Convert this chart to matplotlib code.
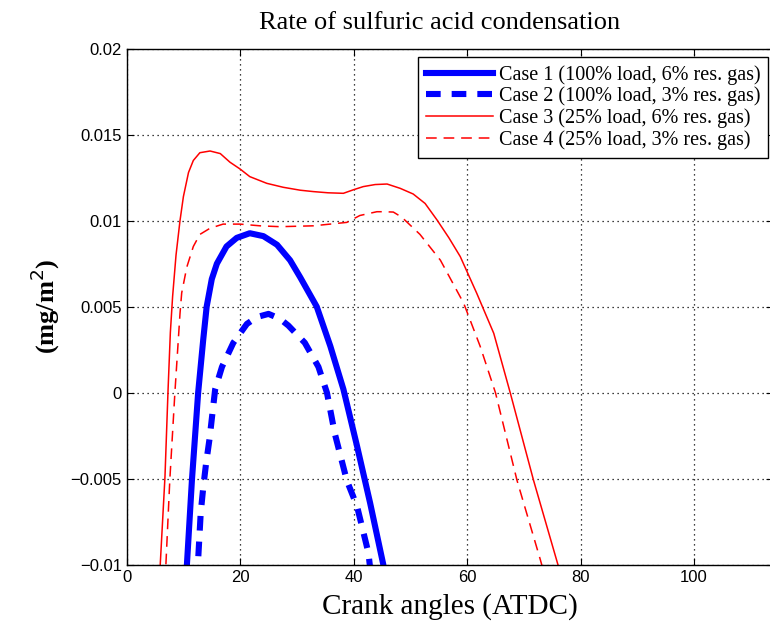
import numpy as np
import matplotlib.pyplot as plt

# crank angle (ATDC) and condensation rate (mg/m^2)
x1 = [10.4, 10.6, 11.5, 12.6, 13.5, 14.1, 15.0, 15.9, 17.6, 19.4, 21.7, 24.1, 26.5, 28.8, 30.6, 33.5, 35.9, 38.2, 40.6, 42.9, 45.3, 45.6]
y1 = [-0.011, -0.0101, -0.0051, 0.0, 0.0031, 0.005, 0.0066, 0.0075, 0.0085, 0.0090, 0.00927, 0.0091, 0.0086, 0.0077, 0.0067, 0.005, 0.0027, 0.0002, -0.0031, -0.0064, -0.0101, -0.011]

x2 = [12.5, 12.6, 13.05, 13.5, 14.0, 14.6, 15.6, 16.8, 18.8, 21.2, 23.0, 25.0, 27.0, 28.5, 31.4, 33.8, 35.3, 36.7, 38.8, 40.6, 42.6, 43.2]
y2 = [-0.011, -0.0097, -0.0070, -0.0055, -0.0041, -0.0027, 0.0002, 0.0015, 0.0029, 0.0040, 0.0044, 0.00458, 0.0043, 0.0039, 0.0029, 0.0015, 0.0, -0.0024, -0.0051, -0.0066, -0.0093, -0.011]

x3 = [5.8, 5.9, 6.75, 7.3, 7.7, 8.1, 8.7, 9.4, 10.0, 10.9, 11.75, 12.9, 14.7, 16.5, 18.2, 20.0, 21.7, 24.7, 27.6, 30.6, 32.9, 35.5, 38.2, 40.0, 41.7, 43.8, 45.9, 48.2, 50.5, 52.6, 54.7, 56.8, 58.8, 61.7, 64.7, 67.6, 71.7, 76.1, 76.9]
y3 = [-0.011, -0.0101, -0.0049, 0.0002, 0.0035, 0.0056, 0.0080, 0.0100, 0.0114, 0.0128, 0.0135, 0.01395, 0.01405, 0.0139, 0.0134, 0.0130, 0.01256, 0.01217, 0.01194, 0.01177, 0.01169, 0.01162, 0.01159, 0.0118, 0.01198, 0.0121, 0.01213, 0.01188, 0.01155, 0.0110, 0.01004, 0.0090, 0.00791, 0.00578, 0.00345, 0.0, -0.00508, -0.0101, -0.011]

x4 = [6.75, 6.9, 7.6, 8.5, 9.4, 9.7, 10.6, 11.75, 12.9, 14.7, 17.0, 20.0, 23.5, 27.0, 32.9, 38.8, 41.1, 44.1, 45.3, 47.0, 48.5, 51.7, 55.3, 59.4, 62.3, 65.0, 68.8, 72.9, 74.0]
y4 = [-0.011, -0.0101, -0.0051, 0.0, 0.0046, 0.0058, 0.0073, 0.0085, 0.0092, 0.00956, 0.0098, 0.0098, 0.0097, 0.00965, 0.0097, 0.0099, 0.0103, 0.01052, 0.01052, 0.0105, 0.0102, 0.0092, 0.0077, 0.0052, 0.0027, 0.0, -0.0051, -0.0097, -0.011]

labels = ['Case 1 (100% load, 6% res. gas)',
          'Case 2 (100% load, 3% res. gas)',
          'Case 3 (25% load, 6% res. gas)',
          'Case 4 (25% load, 3% res. gas)']

serif = ['Liberation Serif', 'DejaVu Serif']
sans = ['Liberation Sans', 'DejaVu Sans']

fig = plt.figure(figsize=(7.7, 6.27), dpi=100)
ax = fig.add_axes([0.1645, 0.0994, 0.840, 0.823])

ax.plot(x1, y1, color='blue', lw=4.4, label=labels[0])
ax.plot(x2, y2, color='blue', lw=4.4, dashes=(2.4, 1.8), label=labels[1])
ax.plot(x3, y3, color='red', lw=1.1, label=labels[2])
ax.plot(x4, y4, color='red', lw=1.1, dashes=(7, 4.5), label=labels[3])

ax.set_xlim(0, 114)
ax.set_ylim(-0.01, 0.02)
ax.set_xticks([0, 20, 40, 60, 80, 100])
ax.set_yticks([-0.01, -0.005, 0, 0.005, 0.01, 0.015, 0.02])
ax.set_yticklabels(['\u22120.01', '\u22120.005', '0', '0.005', '0.01', '0.015', '0.02'])
ax.tick_params(direction='in', top=True, right=True, length=5, labelsize=12)
for t in ax.get_xticklabels() + ax.get_yticklabels():
    t.set_family(sans)
ax.grid(True, color='black', linestyle=(0, (1, 3)), linewidth=0.9)
for s in ax.spines.values():
    s.set_linewidth(1.0)

ax.set_title('Rate of sulfuric acid condensation', family=serif, fontsize=19, pad=14, x=0.483)
ax.set_xlabel('Crank angles (ATDC)', family=serif, fontsize=21, labelpad=6)
ax.set_ylabel('(mg/m$^2$)', family=serif, fontsize=19, fontweight='bold', labelpad=6)

leg = ax.legend(loc='upper right', bbox_to_anchor=(0.992, 0.984), prop={'family': serif, 'size': 14.5},
                fancybox=False, framealpha=1, edgecolor='black', handlelength=3.3,
                borderaxespad=0, handletextpad=0.3, labelspacing=0.1, borderpad=0.4)
leg.get_frame().set_linewidth(1.0)

fig.savefig('out.png', dpi=100)
